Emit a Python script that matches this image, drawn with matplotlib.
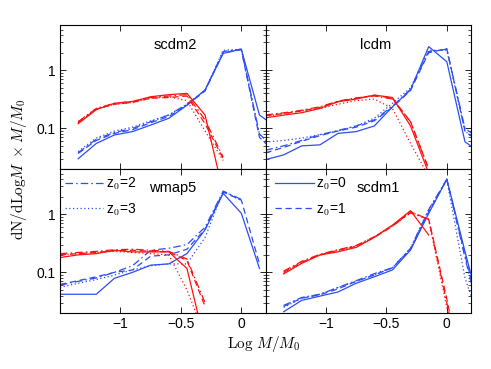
import numpy as np
import matplotlib
matplotlib.use("Agg")
import matplotlib.pyplot as plt
from matplotlib.lines import Line2D
from matplotlib.ticker import FixedLocator, FixedFormatter, LogLocator, NullFormatter

plt.rcParams['font.family'] = ['Liberation Sans', 'DejaVu Sans']
plt.rcParams['mathtext.fontset'] = 'cm'

nan = np.nan

# bin centres (Log M/M0)
logm = [-1.5, -1.35, -1.2, -1.05, -0.9, -0.75, -0.6, -0.45, -0.3, -0.15, 0.0, 0.15, 0.3]

# scdm2
scdm2_blue_z0 = [nan, 0.030, 0.055, 0.077, 0.088, 0.114, 0.149, 0.25, 0.46, 1.95, 2.30, 0.17, 0.10]
scdm2_blue_z1 = [nan, 0.037, 0.062, 0.082, 0.095, 0.125, 0.160, 0.25, 0.44, 2.00, 2.25, 0.07, 0.035]
scdm2_blue_z2 = [nan, 0.038, 0.065, 0.085, 0.100, 0.130, 0.170, 0.26, 0.45, 2.10, 2.30, 0.08, 0.04]
scdm2_blue_z3 = [nan, 0.040, 0.068, 0.090, 0.105, 0.135, 0.170, 0.26, 0.45, 2.20, 2.30, 0.08, 0.04]
scdm2_red_z0 = [nan, 0.120, 0.210, 0.270, 0.290, 0.350, 0.380, 0.40, 0.17, 0.008, nan, nan, nan]
scdm2_red_z1 = [nan, 0.125, 0.215, 0.260, 0.280, 0.330, 0.340, 0.36, 0.12, 0.030, nan, nan, nan]
scdm2_red_z2 = [nan, 0.130, 0.220, 0.270, 0.290, 0.340, 0.360, 0.38, 0.14, 0.032, nan, nan, nan]
scdm2_red_z3 = [nan, 0.130, 0.220, 0.260, 0.280, 0.330, 0.350, 0.30, 0.09, 0.028, nan, nan, nan]

# lcdm
lcdm_blue_z0 = [0.029, 0.035, 0.050, 0.052, 0.082, 0.088, 0.110, 0.235, 0.46, 2.55, 1.40, 0.059, 0.035]
lcdm_blue_z1 = [0.038, 0.047, 0.060, 0.075, 0.090, 0.105, 0.135, 0.230, 0.45, 2.00, 2.35, 0.090, 0.050]
lcdm_blue_z2 = [0.042, 0.050, 0.062, 0.078, 0.092, 0.110, 0.140, 0.240, 0.47, 2.10, 2.30, 0.100, 0.060]
lcdm_blue_z3 = [0.058, 0.062, 0.068, 0.078, 0.090, 0.110, 0.150, 0.270, 0.50, 2.20, 2.20, 0.090, 0.050]
lcdm_red_z0 = [0.152, 0.169, 0.186, 0.220, 0.287, 0.319, 0.374, 0.34, 0.11, 0.017, nan, nan, nan]
lcdm_red_z1 = [0.165, 0.180, 0.200, 0.230, 0.290, 0.330, 0.370, 0.33, 0.13, 0.020, nan, nan, nan]
lcdm_red_z2 = [0.170, 0.185, 0.205, 0.235, 0.295, 0.335, 0.360, 0.32, 0.13, 0.020, nan, nan, nan]
lcdm_red_z3 = [0.160, 0.180, 0.200, 0.220, 0.260, 0.300, 0.320, 0.22, 0.055, 0.015, nan, nan, nan]

# wmap5
wmap5_blue_z0 = [0.042, 0.042, 0.042, 0.079, 0.100, 0.133, 0.140, 0.21, 0.54, 2.28, 1.04, 0.117, nan]
wmap5_blue_z1 = [0.062, 0.072, 0.084, 0.100, 0.110, 0.190, 0.200, 0.25, 0.55, 2.40, 1.75, 0.140, nan]
wmap5_blue_z2 = [0.060, 0.070, 0.080, 0.100, 0.130, 0.240, 0.260, 0.30, 0.60, 2.50, 1.80, nan, nan]
wmap5_blue_z3 = [0.055, 0.065, 0.075, 0.090, 0.110, 0.130, 0.140, 0.14, 0.40, 2.50, 1.70, nan, nan]
wmap5_red_z0 = [0.180, 0.200, 0.210, 0.240, 0.225, 0.225, 0.225, 0.117, 0.006, nan, nan, nan, nan]
wmap5_red_z1 = [0.200, 0.210, 0.220, 0.235, 0.240, 0.230, 0.225, 0.160, 0.026, nan, nan, nan, nan]
wmap5_red_z2 = [0.210, 0.220, 0.230, 0.245, 0.250, 0.240, 0.230, 0.170, 0.030, nan, nan, nan, nan]
wmap5_red_z3 = [0.200, 0.210, 0.220, 0.230, 0.220, 0.210, 0.200, 0.050, 0.008, nan, nan, nan, nan]

# scdm1
scdm1_blue_z0 = [nan, 0.021, 0.033, 0.039, 0.046, 0.065, 0.084, 0.110, 0.242, 1.03, 4.0, 0.23, 0.015]
scdm1_blue_z1 = [nan, 0.026, 0.036, 0.041, 0.052, 0.070, 0.090, 0.120, 0.250, 1.10, 4.0, 0.20, 0.012]
scdm1_blue_z2 = [nan, 0.027, 0.037, 0.042, 0.055, 0.072, 0.095, 0.120, 0.260, 1.20, 4.0, 0.18, 0.010]
scdm1_blue_z3 = [nan, 0.025, 0.036, 0.042, 0.055, 0.070, 0.090, 0.120, 0.260, 1.20, 3.9, 0.08, 0.010]
scdm1_red_z0 = [nan, 0.094, 0.143, 0.199, 0.226, 0.269, 0.40, 0.65, 1.15, 0.44, nan, nan, nan]
scdm1_red_z1 = [nan, 0.100, 0.150, 0.200, 0.240, 0.280, 0.40, 0.62, 1.10, 0.82, 0.035, 0.001, nan]
scdm1_red_z2 = [nan, 0.105, 0.155, 0.205, 0.245, 0.290, 0.41, 0.63, 1.05, 0.82, 0.030, 0.001, nan]
scdm1_red_z3 = [nan, 0.100, 0.150, 0.200, 0.240, 0.285, 0.41, 0.64, 1.10, 0.80, 0.025, 0.001, nan]

panel_names = ['scdm2', 'lcdm', 'wmap5', 'scdm1']
blue_series = [
    [scdm2_blue_z0, scdm2_blue_z1, scdm2_blue_z2, scdm2_blue_z3],
    [lcdm_blue_z0, lcdm_blue_z1, lcdm_blue_z2, lcdm_blue_z3],
    [wmap5_blue_z0, wmap5_blue_z1, wmap5_blue_z2, wmap5_blue_z3],
    [scdm1_blue_z0, scdm1_blue_z1, scdm1_blue_z2, scdm1_blue_z3],
]
red_series = [
    [scdm2_red_z0, scdm2_red_z1, scdm2_red_z2, scdm2_red_z3],
    [lcdm_red_z0, lcdm_red_z1, lcdm_red_z2, lcdm_red_z3],
    [wmap5_red_z0, wmap5_red_z1, wmap5_red_z2, wmap5_red_z3],
    [scdm1_red_z0, scdm1_red_z1, scdm1_red_z2, scdm1_red_z3],
]
z_labels = [r'z$_\mathsf{0}$=0', r'z$_\mathsf{0}$=1', r'z$_\mathsf{0}$=2', r'z$_\mathsf{0}$=3']

blue = '#2d4df5'
red = '#ff1010'
# solid, dashed, dash-dot, dotted
dash_styles = ['-', (0, (5, 3)), (0, (6, 2.5, 1.2, 2.5)), (0, (1, 2))]
lw = 0.9

W, H = 491, 369
fig = plt.figure(figsize=(W / 100, H / 100), dpi=100)

x0, xm, x1 = 60, 265.5, 471
y0, ym, y1 = 25, 169, 313
rects = [
    (x0, y0, xm, ym), (xm, y0, x1, ym),
    (x0, ym, xm, y1), (xm, ym, x1, y1),
]

axes = []
for i, (l, t, r, b) in enumerate(rects):
    ax = fig.add_axes([l / W, 1 - b / H, (r - l) / W, (b - t) / H])
    axes.append(ax)
    for k in range(4):
        ax.plot(logm, blue_series[i][k], color=blue, lw=lw, linestyle=dash_styles[k])
    for k in range(4):
        ax.plot(logm, red_series[i][k], color=red, lw=lw, linestyle=dash_styles[k])
    ax.set_yscale('log')
    ax.set_xlim(-1.5, 0.2)
    ax.set_ylim(0.02, 6)
    ax.xaxis.set_major_locator(FixedLocator([-1, -0.5, 0]))
    ax.yaxis.set_major_locator(FixedLocator([0.1, 1]))
    ax.yaxis.set_minor_locator(LogLocator(base=10, subs=np.arange(2, 10)))
    ax.yaxis.set_minor_formatter(NullFormatter())
    ax.tick_params(which='both', direction='in', top=True, right=True, labelsize=10, pad=3)
    ax.tick_params(which='major', length=4, width=0.6)
    ax.tick_params(which='minor', length=2.2, width=0.5)
    for s in ax.spines.values():
        s.set_linewidth(0.8)
    if i % 2 == 0:
        ax.yaxis.set_major_formatter(FixedFormatter(['0.1', '1']))
    else:
        ax.set_yticklabels([])
    if i < 2:
        ax.set_xticklabels([])
    else:
        ax.xaxis.set_major_formatter(FixedFormatter(['\u22121', '\u22120.5', '0']))

text_pos = [(0.56, 0.86), (0.535, 0.86), (0.55, 0.865), (0.55, 0.865)]
for ax, name, (tx, ty) in zip(axes, panel_names, text_pos):
    ax.text(tx, ty, name, transform=ax.transAxes, ha='center', va='center', fontsize=10.5)

def legend_handles(ks):
    return [Line2D([], [], color=blue, lw=lw, linestyle=dash_styles[k]) for k in ks]

axes[2].legend(legend_handles([2, 3]), [z_labels[2], z_labels[3]], loc='upper left',
               bbox_to_anchor=(-0.025, 1.02), frameon=False, fontsize=10,
               handlelength=2.8, handletextpad=0.15, labelspacing=0.65, borderpad=0.2)
axes[3].legend(legend_handles([0, 1]), [z_labels[0], z_labels[1]], loc='upper left',
               bbox_to_anchor=(0.0, 1.02), frameon=False, fontsize=10,
               handlelength=2.8, handletextpad=0.15, labelspacing=0.65, borderpad=0.2)

fig.text(264 / W, 1 - 344 / H, r'$\mathrm{Log}\ M/M_0$', ha='center', va='center', fontsize=11)
fig.text(19 / W, 1 - 169 / H, r'$\mathrm{dN/dLog}M\ \times M/M_0$', ha='center', va='center',
         rotation=90, fontsize=11)

fig.savefig('out.png', dpi=100)
